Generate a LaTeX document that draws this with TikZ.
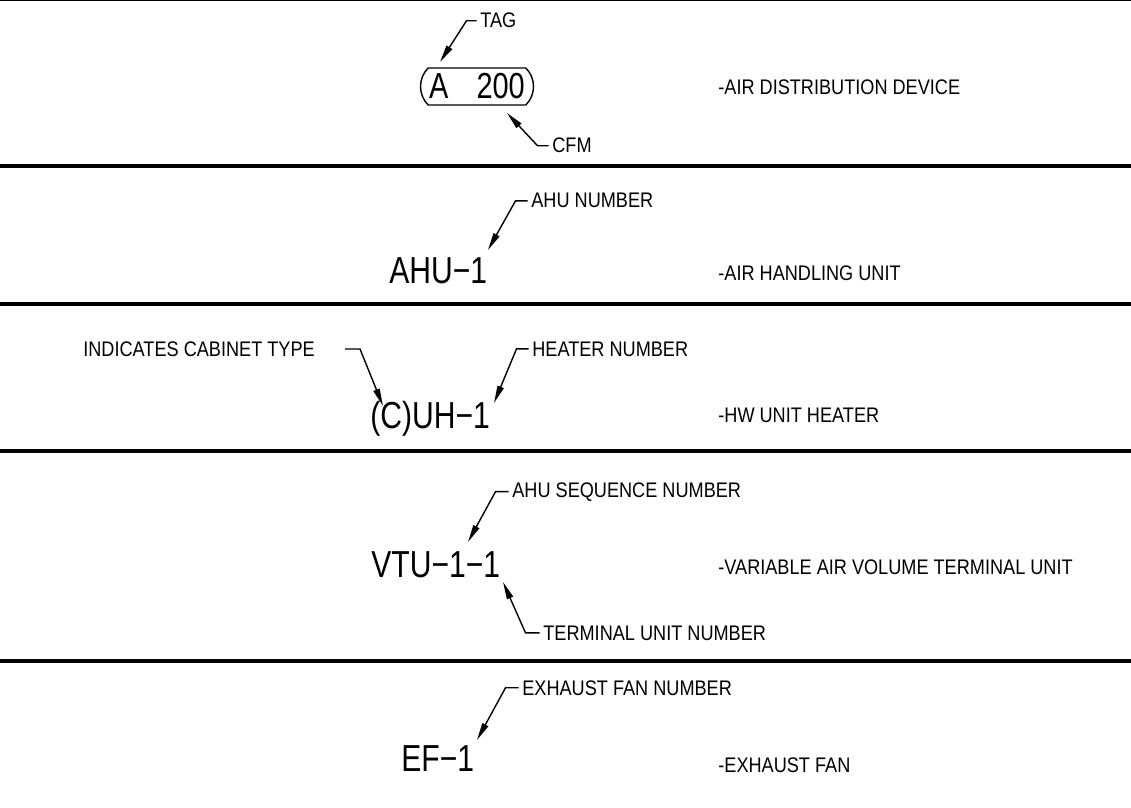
\documentclass[tikz,border=0pt]{standalone}
\usepackage{fontspec}
\usetikzlibrary{arrows.meta,shapes.misc}
\newfontfamily\notefont[FakeStretch=0.86]{Liberation Sans}
\newfontfamily\tagfont[FakeStretch=0.8]{Liberation Sans}

\tikzset{
  note/.style={anchor=base west, inner xsep=2pt, inner ysep=0pt, font=\notefont\fontsize{12}{13}\selectfont},
  bigtag/.style={anchor=base west, inner sep=0pt, font=\tagfont\fontsize{21.4}{22}\selectfont},
  pill/.style={draw, line width=0.8pt, rounded rectangle, rounded rectangle arc length=90,
    minimum width=2.26cm, minimum height=0.74cm, inner sep=0pt, font=\tagfont\fontsize{20.6}{21}\selectfont},
  leader/.style={line width=0.8pt, -{Triangle[length=3.5mm,width=1.3mm]}},
  divider/.style={line width=2pt},
}

\begin{document}
\begin{tikzpicture}[x=0.02cm, y=-0.02cm]
  \useasboundingbox (0,0) rectangle (1131,807);

  % section dividers
  \draw [line width=0.8pt] (0,0.7) -- (1131,0.7);
  \foreach \y in {166,304,451,661}
    \draw [divider] (0,\y) -- (1131,\y);

  % air distribution device
  \node[pill](adtag) at (477,86.5){A\hspace{16pt}200};
  \node[note](tag) at (476.5,28){TAG};
  \coordinate (tagtip) at (440,62);
  \draw [leader] (tag.west) -- ++(-10,0) -- (tagtip);
  \node[note](cfm) at (548.5,153){CFM};
  \coordinate (cfmtip) at (507,113);
  \draw [leader] (cfm.west) -- ++(-11,0) -- (cfmtip);
  \node[note](adtext) at (714.5,95){-AIR DISTRIBUTION DEVICE};

  % air handling unit
  \node[bigtag](ahu) at (389,283){AHU−1};
  \node[note](ahunum) at (527.5,208){AHU NUMBER};
  \coordinate (ahutip) at (488,250);
  \draw [leader] (ahunum.west) -- ++(-12,0) -- (ahutip);
  \node[note](ahutext) at (714.5,280){-AIR HANDLING UNIT};

  % unit heater
  \node[bigtag](uh) at (370,428){(C)UH−1};
  \node[note](cab) at (79.5,356){INDICATES CABINET TYPE};
  \coordinate (cabstart) at (345,349);
  \coordinate (cabtip) at (383,406);
  \draw [leader] (cabstart) -- ++(15,0) -- (cabtip);
  \node[note](heatnum) at (528.5,356){HEATER NUMBER};
  \coordinate (heattip) at (494,403);
  \draw [leader] (heatnum.west) -- ++(-12,0) -- (heattip);
  \node[note](uhtext) at (714.5,422){-HW UNIT HEATER};

  % terminal unit
  \node[bigtag](vtu) at (371,577){VTU−1−1};
  \node[note](seqnum) at (508.5,497){AHU SEQUENCE NUMBER};
  \coordinate (seqtip) at (468,542);
  \draw [leader] (seqnum.west) -- ++(-13,0) -- (seqtip);
  \node[note](termnum) at (539.5,640){TERMINAL UNIT NUMBER};
  \coordinate (termtip) at (503,582);
  \draw [leader] (termnum.west) -- ++(-14,0) -- (termtip);
  \node[note](vtutext) at (714.5,574){-VARIABLE AIR VOLUME TERMINAL UNIT};

  % exhaust fan
  \node[bigtag](ef) at (401,771){EF−1};
  \node[note](efnum) at (518.5,695){EXHAUST FAN NUMBER};
  \coordinate (eftip) at (477,740);
  \draw [leader] (efnum.west) -- ++(-13,0) -- (eftip);
  \node[note](eftext) at (714.5,772){-EXHAUST FAN};
\end{tikzpicture}
\end{document}
